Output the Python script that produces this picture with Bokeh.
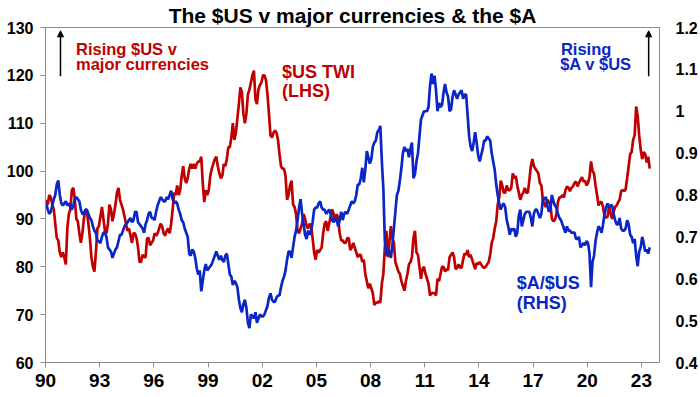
from bokeh.plotting import figure
from bokeh.models import Range1d, LinearAxis, FixedTicker, Label, Arrow, NormalHead
from bokeh.embed import file_html
from bokeh.resources import INLINE

# ---------------- data (monthly, Jan 1990 - Jun 2023) ----------------
START_YEAR = 1990

twi_1990s = [
    94, 93, 95, 94.5, 93, 92, 89, 86, 85.5, 83, 82, 83,
    82, 80.5, 88, 91, 92, 96, 96.5, 94, 90, 89.5, 87, 85,
    87, 90, 92, 91.5, 89, 86, 82, 80, 79, 83, 88, 88.5,
    90.5, 92.5, 90, 87.5, 87, 89, 93, 92, 89.5, 91, 93, 95.5,
    96.5, 94, 93, 92, 90.5, 89, 87.5, 88, 86.5, 85, 87, 87,
    86, 84, 81, 81, 82.5, 82, 82, 86, 86, 84.5, 85, 85.5,
    87, 86.5, 87, 88, 89, 88.5, 87, 86.5, 87.5, 88, 87, 89,
    92, 95.5, 95, 97, 95, 96, 99, 101, 98.5, 97.5, 98.5, 100.5,
    101.5, 100.5, 101.5, 100.5, 101.5, 102, 102, 103, 97.5, 93.5, 96, 95,
    96, 99, 100.5, 101.5, 102.5, 103, 101, 99.5, 98.5, 99, 101.5, 101,
]
twi_2000s = [
    102.5, 105, 105, 107, 110, 106.5, 108, 111, 114, 117.5, 116.5, 112,
    110, 112, 116, 117, 118.5, 120, 121, 115, 114, 117, 118, 118.5,
    120, 120, 119, 116, 112, 107.5, 107, 108, 108.5, 108, 106.5, 103.5,
    101, 100.5, 100.5, 99, 94, 95, 97, 98, 93, 92.5, 91, 87.5,
    87, 88, 89, 91, 90, 88.5, 88, 89, 88.5, 86, 83, 81.5,
    83.5, 83, 83.5, 84, 87, 89, 89.5, 87.5, 89, 90.5, 92, 91,
    89.5, 91, 90, 87, 85.5, 85.5, 85, 85, 86, 86, 83.5, 84,
    85, 84, 83, 82, 82.5, 82.5, 81, 81.5, 78.5, 77, 75.5, 76.5,
    75.5, 74.5, 72, 72.5, 72.5, 72.8, 72.5, 76.5, 78.5, 84, 87.5, 82,
    85, 88.5, 86, 85, 81, 80, 79, 78.5, 77, 76, 75, 77,
]
twi_2010s = [
    78.5, 80.5, 81, 82, 86, 87.5, 83, 82.5, 80, 77.5, 79.5, 80,
    78.5, 77.5, 76.5, 74, 74.5, 74.5, 74.5, 74, 77.5, 77, 78.5, 80,
    80, 79, 79.5, 79.3, 82, 82.5, 83, 82, 79.5, 79.8, 80.5, 79.8,
    79.8, 81.5, 82.8, 82.5, 83.5, 82, 82.5, 81.5, 80.5, 79.5, 80.8, 80.5,
    81, 80.5, 80, 79.8, 80, 80.5, 81, 82.5, 85, 86, 88, 89.5,
    93, 94.5, 98, 97, 95.5, 95.5, 97, 96, 96, 96.5, 99.5, 98.5,
    99, 97, 95.5, 94, 95, 95.5, 96.5, 95.5, 95.5, 98, 101, 102.5,
    101, 100.5, 100, 99.5, 97.5, 97, 94, 93, 92.5, 94, 93.5, 93,
    90, 89.5, 89.8, 91, 93.5, 94.5, 94.5, 95, 94.5, 96, 96.8, 96.5,
    95.8, 96.5, 96.8, 97.5, 97.8, 96.8, 97.5, 98.2, 98.7, 97.8, 98, 97,
]
twi_2020s = [
    97.5, 98.8, 102, 100, 99.5, 97, 95, 92.8, 93.5, 93.5, 92.5, 90.5,
    90.3, 90.5, 92.5, 91.2, 90, 91.5, 92.5, 92.8, 93.5, 94, 95.8, 96,
    95.8, 96.2, 98.5, 101, 103.5, 104, 106.5, 107.5, 113.5, 111.5, 107.5, 104.5,
    102.5, 104, 103.5, 101.8, 103, 100.5,
]

aud_1990s = [
    0.78, 0.765, 0.755, 0.76, 0.775, 0.79, 0.80, 0.825, 0.835, 0.80, 0.78, 0.775,
    0.78, 0.785, 0.775, 0.78, 0.77, 0.765, 0.775, 0.79, 0.795, 0.79, 0.785, 0.765,
    0.755, 0.755, 0.765, 0.765, 0.755, 0.745, 0.74, 0.725, 0.715, 0.71, 0.69, 0.69,
    0.685, 0.70, 0.71, 0.71, 0.70, 0.675, 0.67, 0.665, 0.65, 0.66, 0.67, 0.675,
    0.69, 0.705, 0.705, 0.715, 0.725, 0.73, 0.735, 0.74, 0.745, 0.735, 0.74, 0.76,
    0.76, 0.735, 0.73, 0.725, 0.72, 0.71, 0.73, 0.74, 0.755, 0.76, 0.745, 0.745,
    0.74, 0.76, 0.775, 0.785, 0.795, 0.79, 0.785, 0.785, 0.795, 0.79, 0.80, 0.81,
    0.79, 0.78, 0.785, 0.78, 0.765, 0.755, 0.74, 0.735, 0.72, 0.71, 0.70, 0.66,
    0.655, 0.67, 0.665, 0.65, 0.625, 0.61, 0.62, 0.57, 0.595, 0.62, 0.635, 0.62,
    0.625, 0.63, 0.635, 0.645, 0.655, 0.665, 0.655, 0.645, 0.655, 0.645, 0.64, 0.655,
]
aud_2000s = [
    0.66, 0.635, 0.61, 0.605, 0.585, 0.595, 0.59, 0.58, 0.55, 0.53, 0.52, 0.54,
    0.55, 0.53, 0.495, 0.482, 0.515, 0.51, 0.505, 0.52, 0.495, 0.505, 0.515, 0.51,
    0.51, 0.515, 0.525, 0.535, 0.555, 0.565, 0.55, 0.545, 0.545, 0.555, 0.56, 0.56,
    0.58, 0.595, 0.605, 0.62, 0.645, 0.665, 0.665, 0.65, 0.675, 0.70, 0.715, 0.74,
    0.77, 0.79, 0.755, 0.73, 0.705, 0.695, 0.715, 0.705, 0.715, 0.735, 0.765, 0.77,
    0.77, 0.78, 0.785, 0.77, 0.765, 0.765, 0.755, 0.76, 0.765, 0.755, 0.74, 0.735,
    0.745, 0.74, 0.725, 0.74, 0.76, 0.74, 0.755, 0.76, 0.755, 0.765, 0.775, 0.785,
    0.78, 0.785, 0.80, 0.825, 0.825, 0.84, 0.865, 0.83, 0.86, 0.905, 0.89, 0.875,
    0.885, 0.915, 0.925, 0.93, 0.95, 0.955, 0.965, 0.88, 0.815, 0.69, 0.655, 0.67,
    0.665, 0.65, 0.68, 0.72, 0.76, 0.80, 0.81, 0.835, 0.865, 0.90, 0.915, 0.905,
]
aud_2010s = [
    0.91, 0.89, 0.91, 0.925, 0.84, 0.85, 0.88, 0.90, 0.94, 0.98, 0.99, 1.0,
    1.0, 1.0, 1.01, 1.06, 1.09, 1.065, 1.085, 1.05, 1.0, 1.02, 1.01, 1.015,
    1.045, 1.065, 1.045, 1.035, 1.0, 1.005, 1.035, 1.05, 1.04, 1.03, 1.04, 1.045,
    1.05, 1.03, 1.04, 1.04, 0.99, 0.94, 0.915, 0.905, 0.925, 0.95, 0.925, 0.895,
    0.88, 0.895, 0.91, 0.93, 0.93, 0.94, 0.935, 0.93, 0.90, 0.88, 0.86, 0.825,
    0.80, 0.78, 0.765, 0.775, 0.78, 0.77, 0.74, 0.725, 0.705, 0.72, 0.715, 0.72,
    0.70, 0.71, 0.75, 0.765, 0.725, 0.74, 0.755, 0.76, 0.76, 0.76, 0.745, 0.725,
    0.755, 0.765, 0.765, 0.755, 0.745, 0.755, 0.79, 0.79, 0.795, 0.775, 0.76, 0.765,
    0.80, 0.785, 0.775, 0.77, 0.755, 0.745, 0.74, 0.73, 0.72, 0.71, 0.725, 0.715,
    0.715, 0.71, 0.71, 0.71, 0.695, 0.695, 0.70, 0.675, 0.68, 0.685, 0.68, 0.69,
]
aud_2020s = [
    0.685, 0.66, 0.58, 0.64, 0.655, 0.69, 0.71, 0.725, 0.72, 0.71, 0.73, 0.755,
    0.77, 0.78, 0.77, 0.775, 0.775, 0.755, 0.74, 0.73, 0.73, 0.745, 0.72, 0.715,
    0.715, 0.72, 0.74, 0.73, 0.705, 0.70, 0.685, 0.695, 0.655, 0.63, 0.665, 0.675,
    0.70, 0.685, 0.665, 0.67, 0.66, 0.675,
]

x_ticks = [1990, 1993, 1996, 1999, 2002, 2005, 2008, 2011, 2014, 2017, 2020, 2023]
x_tick_labels = ["90", "93", "96", "99", "02", "05", "08", "11", "14", "17", "20", "23"]
lhs_ticks = [60, 70, 80, 90, 100, 110, 120, 130]
rhs_ticks = [0.4, 0.5, 0.6, 0.7, 0.8, 0.9, 1.0, 1.1, 1.2]
rhs_tick_labels = ["0.4", "0.5", "0.6", "0.7", "0.8", "0.9", "1", "1.1", "1.2"]

twi = twi_1990s + twi_2000s + twi_2010s + twi_2020s
aud = aud_1990s + aud_2000s + aud_2010s + aud_2020s
months = [START_YEAR + (i + 0.5) / 12 for i in range(len(twi))]

# ---------------- style ----------------
RED = "#C00000"
BLUE = "#0A26C4"
AXIS_GREY = "#8C8C8C"
FONT = "Liberation Sans"

p = figure(
    width=700, height=397,
    x_range=Range1d(1990, 2024), y_range=Range1d(60, 130),
    output_backend="svg", toolbar_location=None,
    min_border_left=45, min_border_right=41, min_border_top=27, min_border_bottom=35,
)
p.extra_y_ranges = {"aud": Range1d(0.4, 1.2)}

p.title.text = "The $US v major currencies & the $A"
p.title.align = "center"
p.title.offset = 7
p.title.text_font = FONT
p.title.text_font_size = "21px"
p.title.text_font_style = "bold"
p.title.text_color = "black"
p.title.standoff = 2

p.xgrid.visible = False
p.ygrid.visible = False
p.outline_line_color = AXIS_GREY
p.outline_line_width = 1
p.background_fill_color = "white"
p.border_fill_color = "white"

xa = p.xaxis[0]
xa.ticker = FixedTicker(ticks=x_ticks)
xa.major_label_overrides = dict(zip(x_ticks, x_tick_labels))
xa.major_tick_out = 5
xa.major_tick_in = 0
xa.minor_tick_out = 0
xa.minor_tick_in = 0
xa.major_label_standoff = 6
xa.axis_line_color = AXIS_GREY
xa.major_tick_line_color = AXIS_GREY
xa.major_label_text_font = FONT
xa.major_label_text_font_size = "19px"
xa.major_label_text_font_style = "bold"
xa.major_label_text_color = "black"

ya = p.yaxis[0]
ya.ticker = FixedTicker(ticks=lhs_ticks)
ya.major_tick_out = 5
ya.major_tick_in = 0
ya.minor_tick_out = 0
ya.minor_tick_in = 0
ya.major_label_standoff = 7
ya.axis_line_color = AXIS_GREY
ya.major_tick_line_color = AXIS_GREY
ya.major_label_text_font = FONT
ya.major_label_text_font_size = "16px"
ya.major_label_text_font_style = "bold"
ya.major_label_text_color = "black"

ra = LinearAxis(
    y_range_name="aud",
    ticker=FixedTicker(ticks=rhs_ticks),
    major_label_overrides=dict(zip(rhs_ticks, rhs_tick_labels)),
)
ra.major_tick_out = 0
ra.major_tick_in = 0
ra.minor_tick_out = 0
ra.minor_tick_in = 0
ra.major_label_standoff = 16
ra.axis_line_color = AXIS_GREY
ra.major_label_text_font = FONT
ra.major_label_text_font_size = "16px"
ra.major_label_text_font_style = "bold"
ra.major_label_text_color = "black"
p.add_layout(ra, "right")

# ---------------- series ----------------
p.line(months, twi, line_color=RED, line_width=2.7)
p.line(months, aud, line_color=BLUE, line_width=2.7, y_range_name="aud")

# ---------------- annotations ----------------
def add_label(x, y, text, color, size):
    p.add_layout(Label(
        x=x, y=y, text=text, text_color=color, text_font=FONT,
        text_font_size=size, text_font_style="bold", text_baseline="alphabetic",
        text_align="left",
    ))

add_label(1991.69, 125.5, "Rising $US v", RED, "16.5px")
add_label(1991.69, 122.4, "major currencies", RED, "16.5px")
add_label(2003.09, 120.6, "$US TWI", RED, "18px")
add_label(2003.09, 116.8, "(LHS)", RED, "18px")
add_label(2018.54, 125.6, "Rising", BLUE, "16.5px")
add_label(2018.50, 122.45, "$A v $US", BLUE, "16.5px")
add_label(2016.09, 76.7, "$A/$US", BLUE, "18px")
add_label(2016.09, 72.5, "(RHS)", BLUE, "18px")

for ax in (1990.83, 2023.40):
    p.add_layout(Arrow(
        end=NormalHead(size=6, fill_color="black", line_color="black", line_width=1),
        x_start=ax, y_start=119.8, x_end=ax, y_end=129.3,
        line_color="black", line_width=1.5,
    ))

open("out.html", "w").write(file_html(p, INLINE))
